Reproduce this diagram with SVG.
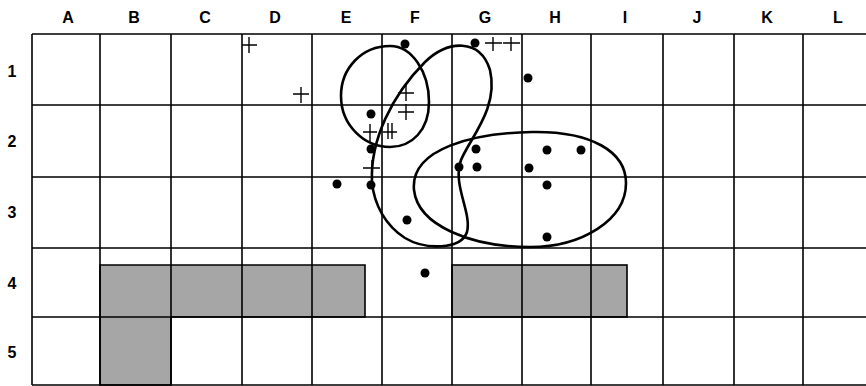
<svg xmlns="http://www.w3.org/2000/svg" width="866" height="386" viewBox="0 0 866 386">
<style>
.lbl{font-family:"Liberation Sans",Arial,sans-serif;font-weight:bold;font-size:16px;fill:#000;text-anchor:middle}
.grid{stroke:#000;stroke-width:1.6;fill:none}
.shade{fill:#a6a6a6;stroke:#000;stroke-width:1.6}
.curve{fill:none;stroke:#000;stroke-width:2.6}
.dot{fill:#000}
.plus{stroke:#000;stroke-width:1.4;fill:none}
</style>
<rect width="866" height="386" fill="#fff"/>
<g id="labels">
<text class="lbl" x="68" y="23">A</text>
<text class="lbl" x="134" y="23">B</text>
<text class="lbl" x="205" y="23">C</text>
<text class="lbl" x="275" y="23">D</text>
<text class="lbl" x="346" y="23">E</text>
<text class="lbl" x="415" y="23">F</text>
<text class="lbl" x="485" y="23">G</text>
<text class="lbl" x="555" y="23">H</text>
<text class="lbl" x="625" y="23">I</text>
<text class="lbl" x="697" y="23">J</text>
<text class="lbl" x="767" y="23">K</text>
<text class="lbl" x="838" y="23">L</text>
<text class="lbl" x="12" y="77">1</text>
<text class="lbl" x="12" y="147">2</text>
<text class="lbl" x="12" y="218">3</text>
<text class="lbl" x="12" y="289">4</text>
<text class="lbl" x="12" y="358">5</text>
</g>
<g id="shaded">
<path class="shade" d="M100,265 H365 V317 H171 V385 H100 Z"/>
<rect class="shade" x="452" y="265" width="175" height="52"/>
</g>
<g id="grid">
<path class="grid" d="M32,34 H866 M32,105 H866 M32,177 H866 M32,248 H866 M32,317 H866 M32,385 H866"/>
<path class="grid" d="M32,34 V385 M100,34 V385 M171,34 V385 M242,34 V385 M312,34 V385 M382,34 V385 M452,34 V385 M522,34 V385 M591,34 V385 M663,34 V385 M734,34 V385 M803,34 V385"/>
</g>
<g id="curves">
<path class="curve" d="M390,46 C412,46 429,72 429,102 C429,130 412,147 390,147 C364,147 341,125 341,96 C341,68 362,46 390,46 Z"/>
<path class="curve" d="M372,182 C370,140 392,95 425,62 C448,40 480,38 490,70 C499,108 470,138 461,160 C452,185 472,212 467,232 C461,250 425,250 405,238 C386,226 374,205 372,182 Z"/>
<path class="curve" d="M414,190 C410,148 475,133 532,132 C592,131 626,152 626,183 C626,220 582,247 530,247 C472,247 418,226 414,190 Z"/>
</g>
<g id="points">
<circle class="dot" cx="405" cy="44" r="4.5"/>
<circle class="dot" cx="475" cy="43" r="4.5"/>
<circle class="dot" cx="528" cy="78" r="4.5"/>
<circle class="dot" cx="371" cy="114" r="4.5"/>
<circle class="dot" cx="371" cy="149" r="4.5"/>
<circle class="dot" cx="476" cy="149" r="4.5"/>
<circle class="dot" cx="459" cy="167" r="4.5"/>
<circle class="dot" cx="477" cy="167" r="4.5"/>
<circle class="dot" cx="529" cy="168" r="4.5"/>
<circle class="dot" cx="547" cy="150" r="4.5"/>
<circle class="dot" cx="581" cy="150" r="4.5"/>
<circle class="dot" cx="547" cy="185" r="4.5"/>
<circle class="dot" cx="547" cy="237" r="4.5"/>
<circle class="dot" cx="407" cy="220" r="4.5"/>
<circle class="dot" cx="337" cy="184" r="4.5"/>
<circle class="dot" cx="371" cy="185" r="4.5"/>
<circle class="dot" cx="425" cy="273" r="4.5"/>
</g>
<g id="crosses">
<path class="plus" d="M242,45 H257 M249,37 V53"/>
<path class="plus" d="M293,94 H309 M301,87 V103"/>
<path class="plus" d="M398,93 H414 M406,85 V101"/>
<path class="plus" d="M398,112 H414 M406,104 V120"/>
<path class="plus" d="M363,132 H377 M370,124 V142"/>
<path class="plus" d="M383,132 H397 M388,123 V139 M392,123 V139"/>
<path class="plus" d="M363,168 H380 M372,160 V175"/>
<path class="plus" d="M485,43 H502 M493,37 V51"/>
<path class="plus" d="M503,43 H520 M511,37 V51"/>
</g>
</svg>
